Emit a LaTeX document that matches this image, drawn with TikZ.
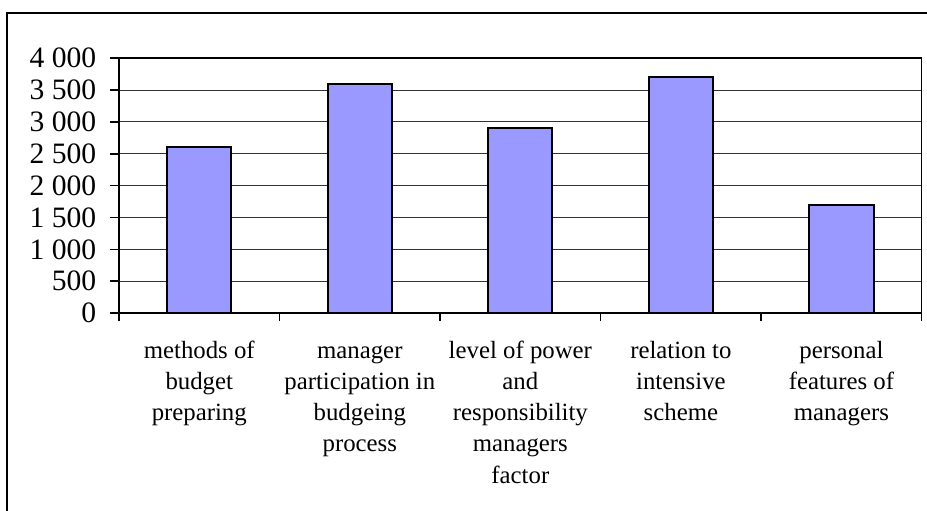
\documentclass[tikz,border=0pt]{standalone}
\usepackage{fontspec}
\setmainfont{Liberation Serif}
\usetikzlibrary{positioning}
\definecolor{barblue}{HTML}{9999FF}
\tikzset{
    %Define style for bars
    bar/.style={
           draw=black,
           line width=1pt,
           fill=barblue},
    % Define grid line style
    gridline/.style={
           draw=black!80,
           line width=0.5pt},
    % Define axis style
    axis/.style={
           draw=black,
           line width=0.75pt},
    % Define label styles
    ticklabel/.style={anchor=east,inner sep=0pt,font=\fontsize{14.8}{15.6}\selectfont},
    catlabel/.style={anchor=north,inner sep=0pt,align=center,font=\fontsize{12.4}{15.6}\selectfont}
}

\begin{document}
\begin{tikzpicture}[x=0.5pt,y=-0.5pt]
  \useasboundingbox (0,0) rectangle (927,510);
  % outer frame
  \draw[line width=1pt] (7.3,13.3) rectangle (960,540);
  \begin{scope}[shift={(119,313)},x=80.27pt,y=0.0318375pt]
    % grid
    \foreach \v in {500,1000,...,3500}
      \draw[gridline] (0,\v) -- (5,\v);
    % bars
    \draw[bar] (0.3,0) rectangle (0.7,2600);
    \draw[bar] (1.3,0) rectangle (1.7,3600);
    \draw[bar] (2.3,0) rectangle (2.7,2900);
    \draw[bar] (3.3,0) rectangle (3.7,3700);
    \draw[bar] (4.3,0) rectangle (4.7,1700);
    % plot area and ticks
    \draw[axis] (0,0) rectangle (5,4000);
    \foreach \v/\lab in {0/0,500/500,1000/1 000,1500/1 500,2000/2 000,2500/2 500,3000/3 000,3500/3 500,4000/4 000}{
      \draw[axis] (0,\v) -- ++(-4.5pt,0);
      \node[ticklabel] (y\v) at ([xshift=-11.2pt]0,\v) {\lab};
    }
    \foreach \i in {0,...,5}
      \draw[axis] (\i,0) -- ++(0,-4pt);
    % categories
    \node[catlabel] (c1) at ([yshift=-11.5pt]0.5,0) {\strut methods of\\budget\\preparing};
    \node[catlabel] (c2) at ([yshift=-11.5pt]1.5,0) {\strut manager\\participation in\\budgeing\\process};
    \node[catlabel] (c3) at ([yshift=-11.5pt]2.5,0) {\strut level of power\\and\\responsibility\\managers\\factor};
    \node[catlabel] (c4) at ([yshift=-11.5pt]3.5,0) {\strut relation to\\intensive\\scheme};
    \node[catlabel] (c5) at ([yshift=-11.5pt]4.5,0) {\strut personal\\features of\\managers};
  \end{scope}
\end{tikzpicture}
\end{document}
